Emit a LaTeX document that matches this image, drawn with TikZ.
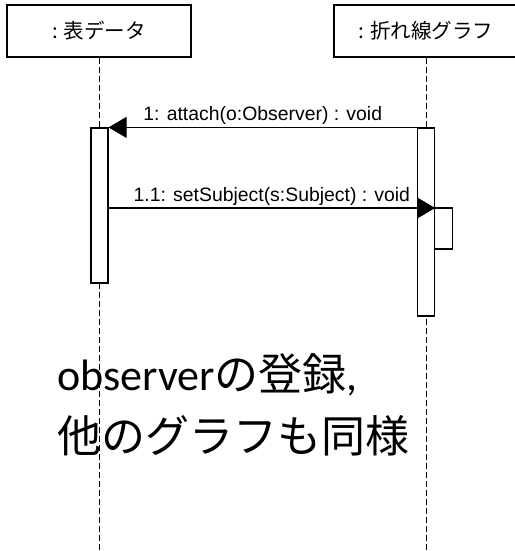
\documentclass[tikz,border=0pt]{standalone}
\usepackage{fontspec}
\setmainfont{Liberation Sans}
\newfontfamily\jpfont{Noto Sans CJK JP}
\newfontfamily\calfont{Carlito}
\usetikzlibrary{arrows.meta, positioning, calc}

\begin{document}
\begin{tikzpicture}[
  x=1pt, y=-1pt,
  objeto/.style={rectangle, draw=black, line width=2pt, fill=white,
                 minimum width=184pt, minimum height=52pt, inner sep=0pt,
                 font=\jpfont\fontsize{20.5}{24}\selectfont},
  activ/.style={rectangle, draw=black, line width=1.2pt, fill=white,
                 minimum width=17pt, inner sep=0pt},
  vida/.style={line width=1pt, dash pattern=on 6pt off 3pt},
  msj/.style={-{Triangle[length=18pt, width=21pt]}, line width=1.2pt},
  lin/.style={line width=1.2pt},
  etiq/.style={font=\fontsize{19.4}{22}\selectfont, inner sep=2pt},
  nota/.style={font=\jpfont\fontsize{44}{50}\selectfont, inner sep=0pt},
]

% --- Fondo y margenes ---
\fill[white] (0,0) rectangle (514,551);
\useasboundingbox (0,0) rectangle (514,551);

% --- Objetos ---
\node[objeto] (tabla) at (99,31)  {: 表データ};
\node[objeto] (grafo) at (426,31) {: 折れ線グラフ};

% --- Lineas de vida ---
\coordinate (fintabla) at (tabla |- 0,551);
\coordinate (fingrafo) at (grafo |- 0,551);
\draw[vida] (tabla.south) -- (fintabla);
\draw[vida] (grafo.south) -- (fingrafo);

% --- Nota ---
\node[nota, anchor=base west] (nota1) at (57,390) {{\calfont observer}の登録{\calfont ,}};
\node[nota, anchor=base west] (nota2) at (57,452) {他のグラフも同様};

% --- Activaciones ---
\node[activ, minimum height=155pt] (acttabla) at (99.5,205.5) {};
\node[activ, minimum height=188pt] (actgrafo) at (426,222) {};

% --- Mensajes ---
\coordinate (m2) at (0,208);
\draw[msj] (actgrafo.north west) -- node[etiq, above]{1: attach(o:Observer) : void} (acttabla.north east);
\draw[msj] (acttabla.east |- m2) -- node[etiq, above]{1.1: setSubject(s:Subject) : void} (actgrafo.east |- m2);

% --- Llamada propia ---
\draw[lin] (actgrafo.east |- m2) -- ++(17,0) -- ++(0,41) -- ++(-17,0);

\end{tikzpicture}
\end{document}
